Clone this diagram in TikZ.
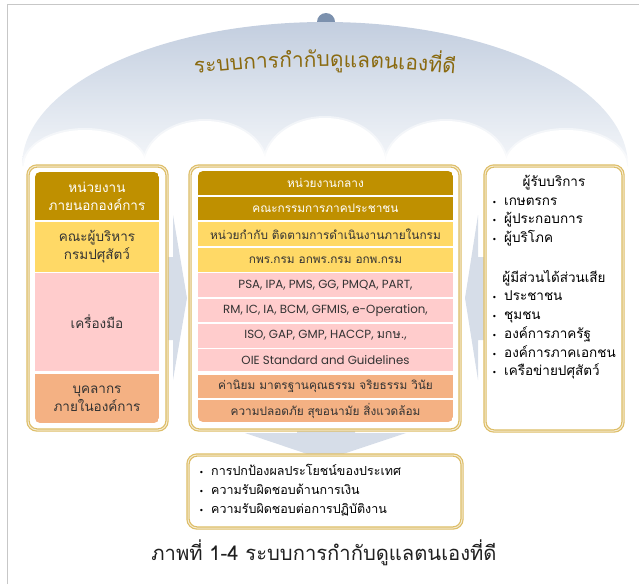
\documentclass[tikz,border=0pt]{standalone}
\usepackage{fontspec}
\setmainfont[Script=Thai]{Loma}
\newfontfamily\latinf{Poppins}
\newfontfamily\thaif[Script=Thai]{Loma}
\newfontfamily\bulf{DejaVu Sans}
\usetikzlibrary{calc}
\definecolor{gold}{HTML}{BF9000}
\definecolor{ylw}{HTML}{FFD966}
\definecolor{pnk}{HTML}{FFCCCC}
\definecolor{org}{HTML}{F4B183}
\definecolor{framec}{HTML}{DDBD66}
\definecolor{arrowc}{HTML}{D6DDE8}
\definecolor{titlec}{HTML}{8A6A10}
\definecolor{knobc}{HTML}{7C91AE}
\definecolor{domeTop}{HTML}{C3CEDF}
\definecolor{domeMid}{HTML}{DCE3ED}
\definecolor{domeBot}{HTML}{F5F7FA}
\definecolor{txt}{HTML}{333333}
\newcommand\bul{\makebox[12pt][l]{\bulf\fontsize{8}{8}\selectfont •}}
\newcommand\titlefont{\thaif\fontsize{21}{24}\selectfont}
\newlength\chunkw
\newlength\totw
\newcommand\measure[2]{\settowidth\chunkw{\titlefont #2}\xdef#1{\the\chunkw}}
\begin{document}
\settowidth\totw{\titlefont ระบบการกำกับดูแลตนเองที่ดี}
\xdef\totwidth{\the\totw}
\measure\wA{ระบบ}\measure\wB{การ}\measure\wC{กำกับ}\measure\wD{ดูแล}\measure\wE{ตนเอง}\measure\wF{ที่ดี}
\begin{tikzpicture}[x=1pt,y=-1pt,
  outerbox/.style={draw=framec, double=framec!30, double distance=1pt, line width=1.2pt,
    fill=white, rounded corners=9pt, inner sep=0pt},
  cellbase/.style={anchor=north west, inner sep=0pt, outer sep=0pt, align=center,
    text=txt, font=\fontsize{11.8}{17}\selectfont},
  lcell/.style={cellbase, minimum width=124pt, font=\fontsize{13.5}{18}\selectfont},
  ccell/.style={cellbase, minimum width=255pt},
  latin/.style={font=\latinf\fontsize{11.8}{13}\selectfont},
  listtext/.style={inner sep=0pt, text=black, font=\fontsize{12.5}{15}\selectfont},
  rlist/.style={listtext, font=\fontsize{13.5}{15}\selectfont},
  titletext/.style={text=titlec, font=\titlefont, inner sep=0pt, anchor=base},
]
\useasboundingbox (0,0) rectangle (639,584);
% page border
\draw[black!22, line width=0.8pt] (7,584) -- (7,4) -- (639,4);
% umbrella
\fill[knobc] (326,22) circle[radius=9];
\shade[top color=domeTop, bottom color=domeBot, middle color=domeMid]
  (22,166) arc[start angle=180, end angle=360, x radius=303, y radius=144] -- cycle;
\foreach \cx/\h in {85/36, 205/45, 325/48, 446/45, 566/36}{
  \fill[white, opacity=0.5] (\cx,166) ellipse[x radius=63, y radius=\h+2];
  \fill[white] (\cx,166) ellipse[x radius=61, y radius=\h];
}
% arched title
\gdef\cum{0}
\foreach \ch/\cw [count=\i] in {ระบบ/\wA,การ/\wB,กำกับ/\wC,ดูแล/\wD,ตนเอง/\wE,ที่ดี/\wF}{
  \pgfmathsetmacro\sarc{\cum+\cw/2-\totwidth/2}
  \pgfmathsetmacro\tang{\sarc/1200*57.29578}
  \pgfmathsetmacro\px{325+1200*sin(\tang)}
  \pgfmathsetmacro\py{67+1200*(1-cos(\tang))}
  \node[titletext, rotate=-\tang] (title\i) at (\px,\py) {\ch};
  \pgfmathsetmacro\newcum{\cum+\cw}
  \global\let\cum\newcum
}
% block arrows
\fill[arrowc] (150,257) -- (173,257) -- (173,215) -- (187,298) -- (173,380) -- (173,340) -- (150,340) -- cycle;
\fill[arrowc] (500,257) -- (478,257) -- (478,215) -- (465,298) -- (478,380) -- (478,340) -- (500,340) -- cycle;
\fill[arrowc] (297,415) -- (297,433) -- (245,433) -- (325,460) -- (406,433) -- (355,433) -- (355,415) -- cycle;
% outer boxes
\node[outerbox, minimum width=139pt, minimum height=264pt] (lbox) at (97.5,298) {};
\node[outerbox, minimum width=270pt, minimum height=264pt] (cbox) at (325,298) {};
\node[outerbox, minimum width=138pt, minimum height=265pt] (rbox) at (554,298.5) {};
\node[outerbox, minimum width=274pt, minimum height=73pt] (bbox) at (325,491.5) {};
% left column cells
\begin{scope}
\clip[rounded corners=5pt] (35,172) rectangle (159,423);
\node[lcell, fill=gold, text=white, minimum height=48pt] (l1) at (35,172) {หน่วยงาน\\ภายนอกองค์การ};
\node[lcell, fill=ylw, minimum height=49.5pt] (l2) at (35,222) {คณะผู้บริหาร\\กรมปศุสัตว์};
\node[lcell, fill=pnk, minimum height=98pt] (l3) at (35,273) {เครื่องมือ};
\node[lcell, fill=org, minimum height=49pt] (l4) at (35,374) {บุคลากร\\ภายในองค์การ};
\end{scope}
% centre column cells
\begin{scope}
\clip[rounded corners=5pt] (198,171) rectangle (453,422);
\node[ccell, fill=gold, text=white, minimum height=24pt] (c1) at (198,171) {หน่วยงานกลาง};
\node[ccell, fill=gold, text=white, minimum height=23.5pt] (c2) at (198,196.5) {คณะกรรมการภาคประชาชน};
\node[ccell, fill=ylw, minimum height=24pt] (c3) at (198,222) {หน่วยกำกับ ติดตามการดำเนินงานภายในกรม};
\node[ccell, fill=ylw, minimum height=24.5pt] (c4) at (198,247.5) {กพร.กรม อกพร.กรม อกพ.กรม};
\node[ccell, fill=pnk, minimum height=24pt, latin] (c5) at (198,273) {PSA, IPA, PMS, GG, PMQA, PART,};
\node[ccell, fill=pnk, minimum height=23.5pt, latin] (c6) at (198,298.5) {RM, IC, IA, BCM, GFMIS, e-Operation,};
\node[ccell, fill=pnk, minimum height=24pt, latin] (c7) at (198,323.5) {ISO, GAP, GMP, HACCP, {\thaif\fontsize{12.5}{12}\selectfont มกษ.},};
\node[ccell, fill=pnk, minimum height=22pt, latin] (c8) at (198,349) {OIE Standard and Guidelines};
\node[ccell, fill=org, minimum height=23pt] (c9) at (198,375) {ค่านิยม มาตรฐานคุณธรรม จริยธรรม วินัย};
\node[ccell, fill=org, minimum height=22.5pt] (c10) at (198,399.5) {ความปลอดภัย สุขอนามัย สิ่งแวดล้อม};
\end{scope}
% right column list
\node[rlist, anchor=base] (rh1) at (554,186) {ผู้รับบริการ};
\node[rlist, anchor=base west] (r1) at (492,205) {\bul เกษตรกร};
\node[rlist, anchor=base west] (r2) at (492,223) {\bul ผู้ประกอบการ};
\node[rlist, anchor=base west] (r3) at (492,242) {\bul ผู้บริโภค};
\node[rlist, anchor=base] (rh2) at (554,282) {ผู้มีส่วนได้ส่วนเสีย};
\node[rlist, anchor=base west] (r4) at (492,300) {\bul ประชาชน};
\node[rlist, anchor=base west] (r5) at (492,319) {\bul ชุมชน};
\node[rlist, anchor=base west] (r6) at (492,338) {\bul องค์การภาครัฐ};
\node[rlist, anchor=base west] (r7) at (492,357) {\bul องค์การภาคเอกชน};
\node[rlist, anchor=base west] (r8) at (492,375) {\bul เครือข่ายปศุสัตว์};
% bottom list
\node[listtext, anchor=base west] (b1) at (199,475) {\bul การปกป้องผลประโยชน์ของประเทศ};
\node[listtext, anchor=base west] (b2) at (199,494) {\bul ความรับผิดชอบด้านการเงิน};
\node[listtext, anchor=base west] (b3) at (199,513) {\bul ความรับผิดชอบต่อการปฏิบัติงาน};
% caption
\node[text=black!88, font=\fontsize{20.2}{23}\selectfont] (cap) at (324,553) {ภาพที่ 1-4 ระบบการกำกับดูแลตนเองที่ดี};
\end{tikzpicture}
\end{document}
